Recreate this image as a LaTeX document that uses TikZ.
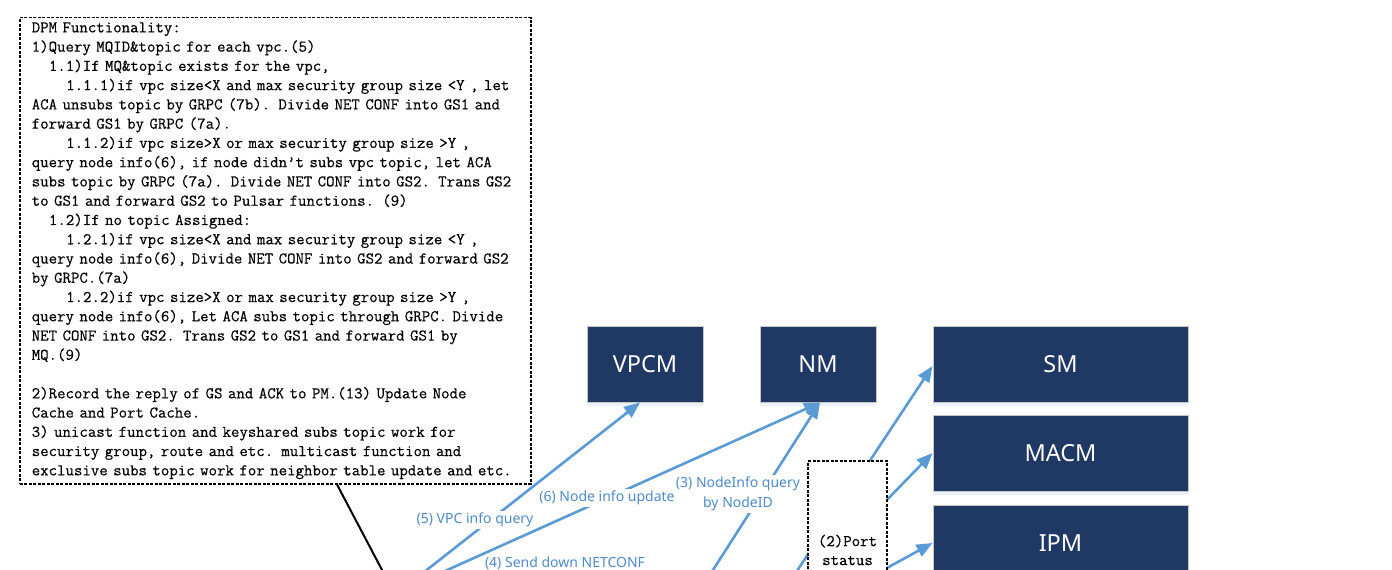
\documentclass[tikz,border=0pt]{standalone}
\usepackage{fontspec}
\newfontfamily\labfont{Noto Sans}
\newfontfamily\notefont{Latin Modern Mono}[FakeBold=0.35]
\usetikzlibrary{arrows.meta,shadows,calc}
\definecolor{navy}{HTML}{203864}
\definecolor{arrowblue}{HTML}{5B9BD5}
\definecolor{labblue}{HTML}{4F8BC9}
\newcommand\dpmindA{\hspace*{1.05em}}
\newcommand\dpmindB{\hspace*{2.1em}}
\begin{document}
\begin{tikzpicture}[x=1bp,y=-1bp,
 modbox/.style={draw=black!22, line width=1bp, fill=navy, text=white,
   font=\labfont\fontsize{23.5bp}{26bp}\selectfont, minimum height=76bp, inner sep=0pt,
   drop shadow={shadow xshift=0bp, shadow yshift=-4bp, fill=arrowblue, opacity=0.12}},
 flow/.style={draw=arrowblue, line width=2.6bp, -{Triangle[length=16bp,width=13bp]}},
 flowlab/.style={fill=white, text=labblue, font=\labfont\fontsize{14bp}{20bp}\selectfont,
   inner sep=1.5bp, align=center},
 notebox/.style={draw=black, line width=1.5bp, dash pattern=on 3bp off 1.5bp, fill=white,
   font=\notefont\fontsize{16.4bp}{19.26bp}\selectfont},
 blackline/.style={draw=black, line width=2bp},
]
\useasboundingbox (0,0) rectangle (1392,570);
\clip (0,0) rectangle (1392,570);

% modules
\node[modbox, minimum width=116bp] (vpcm) at (645,364) {VPCM};
\node[modbox, minimum width=116bp] (nm) at (818,364) {NM};
\node[modbox, minimum width=255bp] (sm) at (1060.5,364) {SM};
\node[modbox, minimum width=255bp] (macm) at (1060.5,453) {MACM};
\node[modbox, minimum width=255bp] (ipm) at (1060.5,543) {IPM};

% DPM note
\node[notebox, anchor=north west, minimum width=511bp, minimum height=466bp,
      text width=487bp, inner xsep=12bp, inner ysep=2bp, align=left] (dpmnote) at (19,17) {%
DPM Functionality:\\
1)Query MQID\&topic for each vpc.(5)\\
\dpmindA 1.1)If MQ\&topic exists for the vpc,\\
\dpmindB 1.1.1)if vpc size<X and max security group size <Y , let\\
ACA unsubs topic by GRPC (7b). Divide NET CONF into GS1 and\\
forward GS1 by GRPC (7a).\\
\dpmindB 1.1.2)if vpc size>X or max security group size >Y ,\\
query node info(6), if node didn’t subs vpc topic, let ACA\\
subs topic by GRPC (7a). Divide NET CONF into GS2. Trans GS2\\
to GS1 and forward GS2 to Pulsar functions. (9)\\
\dpmindA 1.2)If no topic Assigned:\\
\dpmindB 1.2.1)if vpc size<X and max security group size <Y ,\\
query node info(6), Divide NET CONF into GS2 and forward GS2\\
by GRPC.(7a)\\
\dpmindB 1.2.2)if vpc size>X or max security group size >Y ,\\
query node info(6), Let ACA subs topic through GRPC. Divide\\
NET CONF into GS2. Trans GS2 to GS1 and forward GS1 by\\
MQ.(9)\\
\mbox{}\\
2)Record the reply of GS and ACK to PM.(13) Update Node\\
Cache and Port Cache.\\
3) unicast function and keyshared subs topic work for\\
security group, route and etc. multicast function and\\
exclusive subs topic work for neighbor table update and etc.};

% free ends below the visible area
\coordinate (c5) at (414,580);
\coordinate (c6) at (425,580);
\coordinate (c3) at (706.6,580);
\coordinate (csm) at (791,580);
\coordinate (cmacm) at (809,580);
\coordinate (cipm) at (865,580);
\coordinate (cblk) at (387.3,580);

% connectors
\draw[blackline] ([xshift=318bp]dpmnote.south west) -- (cblk);
\draw[flow] (c5) -- ([xshift=-5bp]vpcm.south);
\draw[flow] (c6) -- ([xshift=2bp]nm.south);
\draw[flow] (c3) -- ([xshift=2bp]nm.south);
\draw[flow] (csm) -- ([yshift=-2bp]sm.west);
\draw[flow] (cmacm) -- (macm.west);
\draw[flow] (cipm) -- (ipm.west);

% port status box
\node[notebox, minimum width=79bp, minimum height=178bp, align=center,
      font=\notefont\fontsize{16.4bp}{19bp}\selectfont] (portbox) at (847.5,550) {(2)Port\\status};

% labels
\node[flowlab] (l5) at (475,520) {(5) VPC info query};
\node[flowlab] (l6) at (607,498) {(6) Node info update};
\node[flowlab] (l3) at (738,494) {(3) NodeInfo query\\by NodeID};
\node[flowlab] (l4) at (565,563) {(4) Send down NETCONF};
\end{tikzpicture}
\end{document}
